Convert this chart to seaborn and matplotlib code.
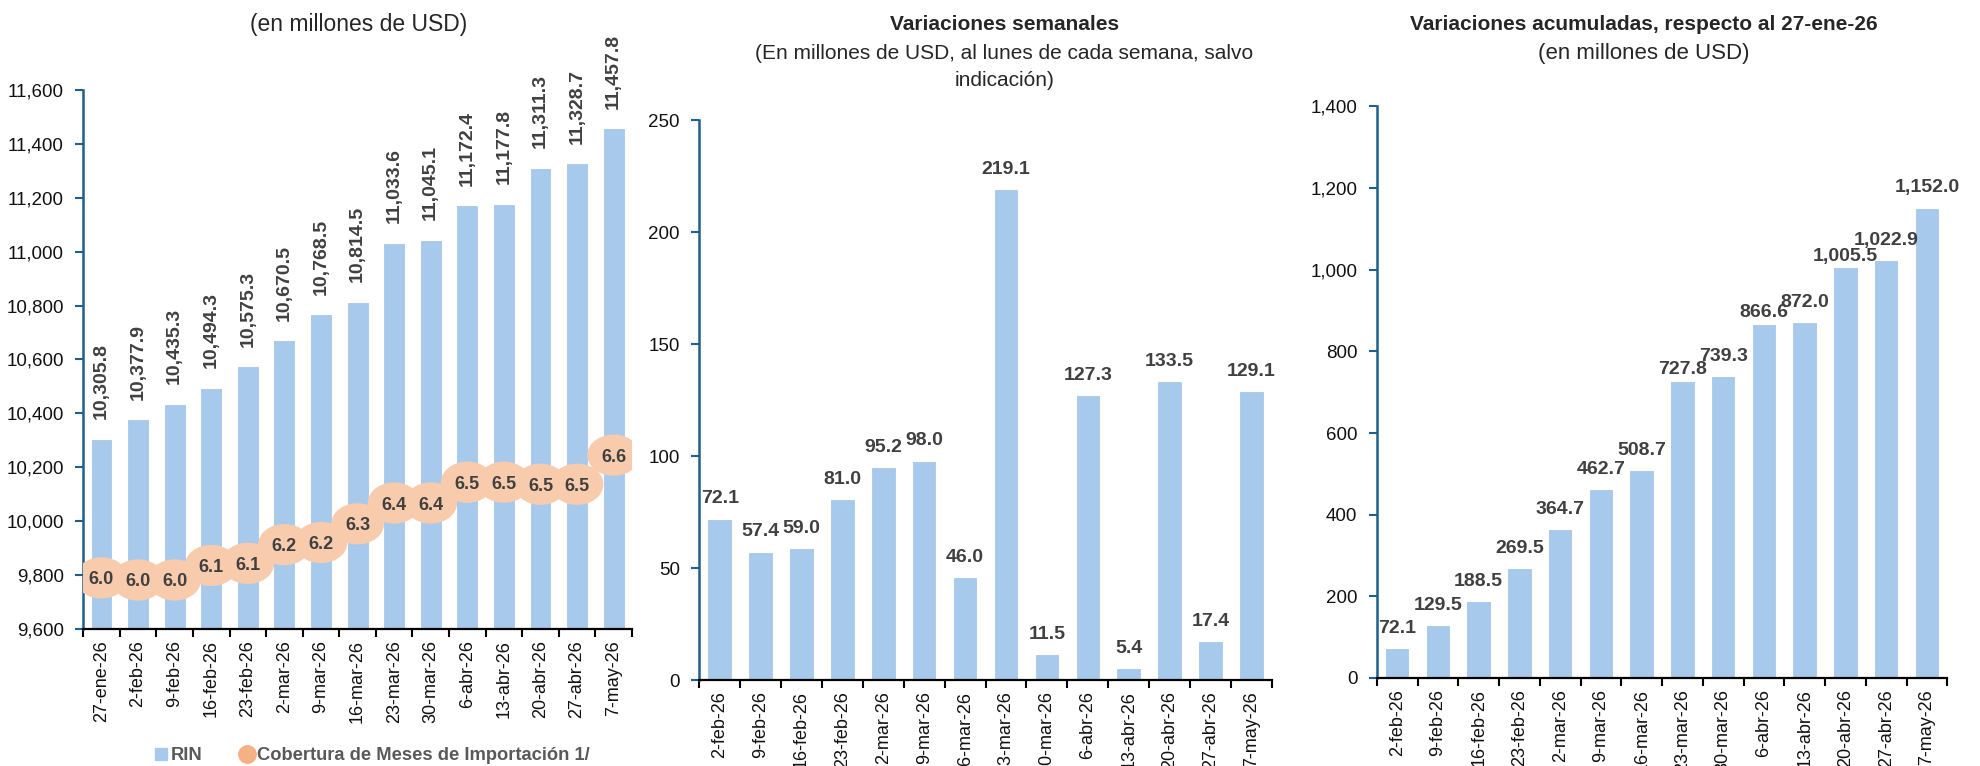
import numpy as np
import pandas as pd
import matplotlib
matplotlib.use("Agg")
import matplotlib.pyplot as plt
from matplotlib.path import Path
from matplotlib.lines import Line2D
from matplotlib.ticker import FuncFormatter, FixedLocator
import seaborn as sns

# ---------------- data ----------------
fechas_rin = ["27-ene-26", "2-feb-26", "9-feb-26", "16-feb-26", "23-feb-26", "2-mar-26",
              "9-mar-26", "16-mar-26", "23-mar-26", "30-mar-26", "6-abr-26", "13-abr-26",
              "20-abr-26", "27-abr-26", "7-may-26"]
rin = [10305.8, 10377.9, 10435.3, 10494.3, 10575.3, 10670.5, 10768.5, 10814.5,
       11033.6, 11045.1, 11172.4, 11177.8, 11311.3, 11328.7, 11457.8]
cobertura = [6.00, 5.99, 5.99, 6.06, 6.07, 6.16, 6.17, 6.26, 6.36, 6.36,
             6.46, 6.46, 6.45, 6.45, 6.59]

fechas_var = ["2-feb-26", "9-feb-26", "16-feb-26", "23-feb-26", "2-mar-26", "9-mar-26",
              "16-mar-26", "23-mar-26", "30-mar-26", "6-abr-26", "13-abr-26",
              "20-abr-26", "27-abr-26", "7-may-26"]
var_semanal = [72.1, 57.4, 59.0, 81.0, 95.2, 98.0, 46.0, 219.1, 11.5, 127.3, 5.4,
               133.5, 17.4, 129.1]
var_acumulada = [72.1, 129.5, 188.5, 269.5, 364.7, 462.7, 508.7, 727.8, 739.3,
                 866.6, 872.0, 1005.5, 1022.9, 1152.0]

# ---------------- style ----------------
sns.set_theme(style="white")
FONT = ["Liberation Sans", "DejaVu Sans"]
plt.rcParams["font.family"] = FONT

BAR = "#A7CAEC"
CIRC = "#F8CBAD"
CIRC_LEG = "#F4B183"
SPINE = "#1F5F8B"
LBL = "#404040"

fig = plt.figure(figsize=(19.81, 7.66), dpi=100)

ax1 = fig.add_axes([0.042, 0.179, 0.277, 0.7035])
ax_m = fig.add_axes([0.353, 0.112, 0.289, 0.731])
ax_r = fig.add_axes([0.695, 0.115, 0.288, 0.746])

comma = FuncFormatter(lambda v, p: f"{v:,.0f}")


def style_axis(ax, n, ylim, ystep):
    ax.set_xlim(-0.5, n - 0.5)
    ax.set_ylim(*ylim)
    ax.yaxis.set_major_locator(FixedLocator(np.arange(ylim[0], ylim[1] + 1, ystep)))
    ax.yaxis.set_major_formatter(comma)
    for s in ["top", "right"]:
        ax.spines[s].set_visible(False)
    ax.spines["left"].set_color(SPINE)
    ax.spines["left"].set_linewidth(1.8)
    ax.spines["bottom"].set_color("black")
    ax.spines["bottom"].set_linewidth(1.6)
    ax.tick_params(axis="y", which="major", left=True, direction="out", length=6,
                   width=1.5, color=SPINE, labelsize=13.5, pad=8, labelcolor="#111111")
    ax.set_xticks(np.arange(n))
    ax.set_xticks(np.arange(-0.5, n, 1.0), minor=True)
    ax.tick_params(axis="x", which="major", length=0, labelsize=13, pad=8,
                   labelrotation=90, labelcolor="#111111")
    ax.tick_params(axis="x", which="minor", bottom=True, direction="out", length=6,
                   width=1.5, color="black")
    ax.set_xlabel("")
    ax.set_ylabel("")
    ax.grid(False)


# ---------------- left panel ----------------
df1 = pd.DataFrame({"fecha": fechas_rin, "rin": rin})
sns.barplot(data=df1, x="fecha", y="rin", color=BAR, saturation=1, width=0.6,
            edgecolor="white", linewidth=0.8, ax=ax1)
style_axis(ax1, len(fechas_rin), (9600, 11600), 200)
ax1.set_xticklabels(fechas_rin)
for i, v in enumerate(rin):
    ax1.annotate(f"{v:,.1f}", xy=(i, v), xytext=(0, 14), textcoords="offset points",
                 rotation=90, ha="center", va="bottom", fontsize=14,
                 fontweight="bold", color=LBL, annotation_clip=False)

ax2 = ax1.twinx()
ax2.set_ylim(5.755, 8.345)
ax2.set_axis_off()
theta = np.linspace(0, 2 * np.pi, 60)
ellipse = Path(np.column_stack([np.cos(theta) * 1.28, np.sin(theta)]), closed=True)
sns.scatterplot(x=np.arange(len(cobertura)), y=cobertura, marker=ellipse,
                s=38 ** 2, color=CIRC, edgecolor="none", linewidth=0, ax=ax2,
                legend=False, zorder=3)
ax2.set_xlim(-0.5, len(fechas_rin) - 0.5)
for i, v in enumerate(cobertura):
    ax2.text(i, v, f"{v:.1f}", ha="center", va="center_baseline", fontsize=13,
             fontweight="bold", color=LBL, zorder=4)

fig.text(0.181, 0.9675, "(en millones de USD)", ha="center", va="center", fontsize=16.5)

handles = [Line2D([], [], linestyle="none", marker="s", markersize=9, color=BAR),
           Line2D([], [], linestyle="none", marker="o", markersize=12.5, color=CIRC_LEG)]
leg = fig.legend(handles, ["RIN", "Cobertura de Meses de Importación 1/"],
                 loc="center", bbox_to_anchor=(0.1875, 0.0135), ncol=2, frameon=False,
                 handlelength=0.8, handletextpad=0.15, columnspacing=2.0,
                 prop={"family": FONT, "size": 13.2, "weight": "bold"})
for t in leg.get_texts():
    t.set_color("#595959")

# ---------------- middle panel ----------------
df2 = pd.DataFrame({"fecha": fechas_var, "v": var_semanal})
sns.barplot(data=df2, x="fecha", y="v", color=BAR, saturation=1, width=0.6,
            edgecolor="white", linewidth=0.8, ax=ax_m)
style_axis(ax_m, len(fechas_var), (0, 250), 50)
ax_m.set_xticklabels(fechas_var)
for i, v in enumerate(var_semanal):
    ax_m.annotate(f"{v:,.1f}", xy=(i, v), xytext=(0, 11), textcoords="offset points",
                  ha="center", va="baseline", fontsize=14, fontweight="bold",
                  color=LBL, annotation_clip=False)

fig.text(0.507, 0.9675, "Variaciones semanales", ha="center", va="center",
         fontsize=15, fontweight="bold")
fig.text(0.507, 0.930, "(En millones de USD, al lunes de cada semana, salvo",
         ha="center", va="center", fontsize=15)
fig.text(0.507, 0.895, "indicación)", ha="center", va="center", fontsize=15)

# ---------------- right panel ----------------
df3 = pd.DataFrame({"fecha": fechas_var, "v": var_acumulada})
sns.barplot(data=df3, x="fecha", y="v", color=BAR, saturation=1, width=0.6,
            edgecolor="white", linewidth=0.8, ax=ax_r)
style_axis(ax_r, len(fechas_var), (0, 1400), 200)
ax_r.set_xticklabels(fechas_var)
n_r = len(var_acumulada)
for i, v in enumerate(var_acumulada):
    # labels crowded by a slightly taller neighbour sit closer to their bar
    crowded = i + 1 < n_r and (var_acumulada[i + 1] - v) < 30
    off = 5 if crowded else 11
    ax_r.annotate(f"{v:,.1f}", xy=(i, v), xytext=(0, off), textcoords="offset points",
                  ha="center", va="baseline", fontsize=14, fontweight="bold",
                  color=LBL, annotation_clip=False)

fig.text(0.830, 0.9675, "Variaciones acumuladas, respecto al 27-ene-26", ha="center",
         va="center", fontsize=15, fontweight="bold")
fig.text(0.830, 0.930, "(en millones de USD)", ha="center", va="center", fontsize=16)

fig.savefig("out.png", dpi=100)
